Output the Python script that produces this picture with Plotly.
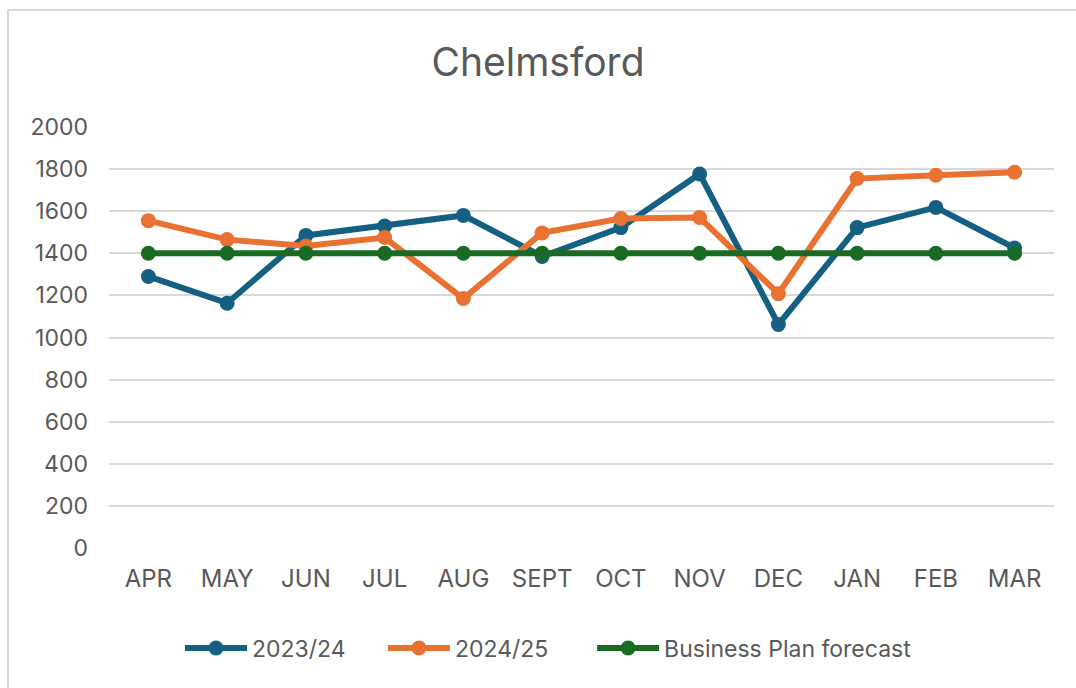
import plotly.graph_objects as go

months = ["APR", "MAY", "JUN", "JUL", "AUG", "SEPT", "OCT", "NOV", "DEC", "JAN", "FEB", "MAR"]
fy2023 = [1290, 1163, 1485, 1530, 1580, 1385, 1522, 1777, 1062, 1522, 1618, 1425]
fy2024 = [1555, 1465, 1435, 1475, 1185, 1497, 1565, 1570, 1208, 1755, 1771, 1785]
forecast = [1400] * 12
y_ticks = [0, 200, 400, 600, 800, 1000, 1200, 1400, 1600, 1800, 2000]

FONT = "Inter, Open Sans, sans-serif"
GREY = "#595959"
NB = "\u00a0"

series = [
    ("2023/24", fy2023, "#156082", 5),
    ("2024/25", fy2024, "#E97132", 6),
    ("Business Plan forecast", forecast, "#196B24", 0),
]

fig = go.Figure()
for name, vals, col, pad in series:
    fig.add_trace(go.Scatter(
        x=months, y=vals, name=name + NB * pad, mode="lines+markers",
        line=dict(color=col, width=6),
        marker=dict(color=col, size=15),
    ))

L, R, T, B = 109, 22, 127, 140
PW, PH = 1076 - L - R, 688 - T - B

fig.update_layout(
    width=1076, height=688,
    paper_bgcolor="white", plot_bgcolor="white",
    margin=dict(l=L, r=R, t=T, b=B, autoexpand=False),
    title=dict(text="Chelmsford", x=0.5, xanchor="center", y=1 - 62 / 688, yanchor="middle",
               font=dict(family=FONT, size=39, color=GREY)),
    font=dict(family=FONT, color=GREY, size=23),
    xaxis=dict(range=[-0.5, 11.5], showgrid=False, showline=False, zeroline=False, ticks="",
               tickfont=dict(size=24, color=GREY), ticklabelstandoff=14),
    yaxis=dict(range=[0, 2000], tickvals=y_ticks, showgrid=True, gridcolor="#D9D9D9",
               gridwidth=1.5, zeroline=False, showline=False, ticks="",
               tickfont=dict(size=23, color=GREY), ticklabelstandoff=20),
    legend=dict(orientation="h", x=(180 - L) / PW, xanchor="left", y=(548 - 648) / PH,
                yanchor="middle", font=dict(size=23, color=GREY), traceorder="normal",
                itemwidth=62),
    shapes=[
        dict(type="line", xref="paper", yref="paper",
             x0=(8 - L) / PW, x1=(1076 - L + 5) / PW,
             y0=(548 - 10) / PH, y1=(548 - 10) / PH,
             line=dict(color="#D9D9D9", width=2)),
        dict(type="line", xref="paper", yref="paper",
             x0=(8 - L) / PW, x1=(8 - L) / PW,
             y0=(548 - 700) / PH, y1=(548 - 10) / PH,
             line=dict(color="#D9D9D9", width=2)),
    ],
)

fig.write_html("out.html", config={"displayModeBar": False},
               post_script="document.body.style.margin='0';")
